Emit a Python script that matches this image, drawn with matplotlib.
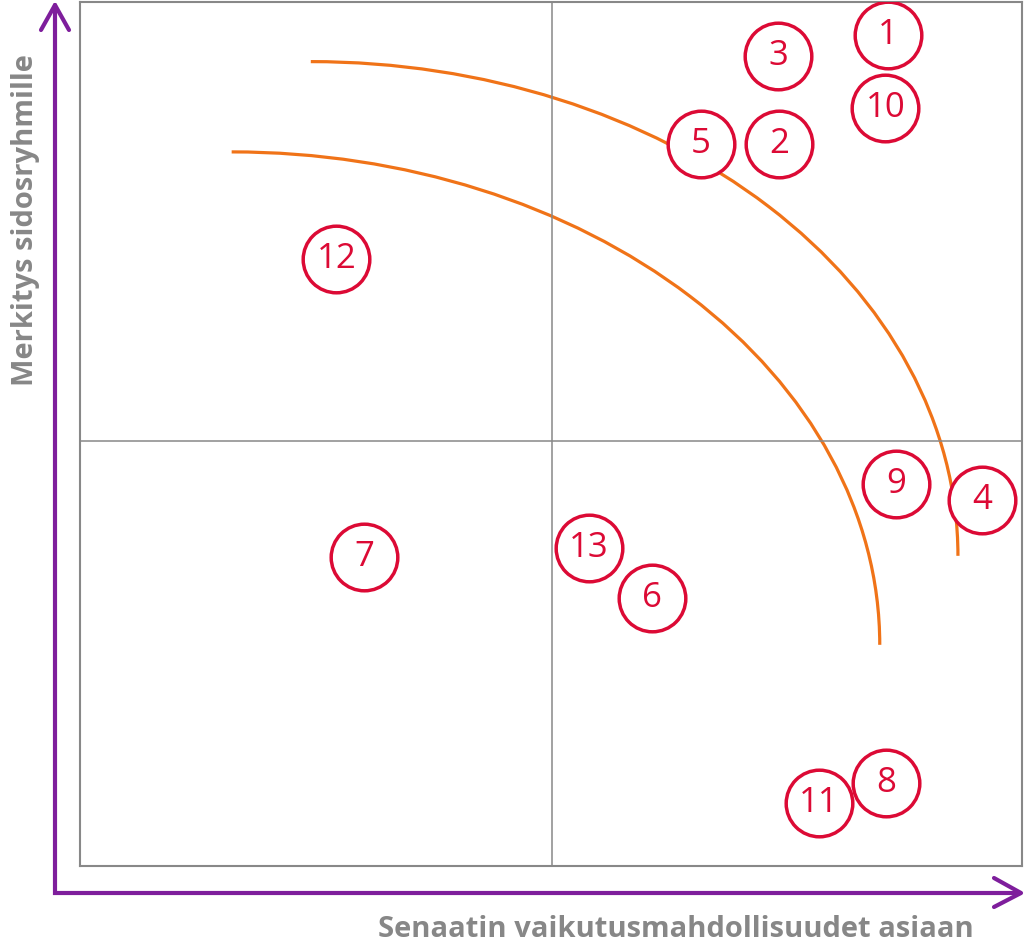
import matplotlib.pyplot as plt
from matplotlib.patches import Arc

# item numbers and their positions (0..10 scale on both axes)
labels = ['1', '3', '10', '5', '2', '12', '9', '4', '7', '13', '6', '8', '11']
x_vals = [8.58, 7.41, 8.55, 6.59, 7.42, 2.72, 8.66, 9.58, 3.02, 5.40, 6.07, 8.56, 7.84]
y_vals = [9.62, 9.38, 8.77, 8.36, 8.36, 7.02, 4.42, 4.24, 3.58, 3.68, 3.10, 0.96, 0.73]

# quarter-ellipse boundaries: centre x, centre y, width, height
arc_cx = [2.45, 1.61]
arc_cy = [3.59, 2.56]
arc_w = [13.74, 13.76]
arc_h = [11.44, 11.41]

xlabel = 'Senaatin vaikutusmahdollisuudet asiaan'
ylabel = 'Merkitys sidosryhmille'

red = '#DC0A35'
orange = '#F07318'
purple = '#7E1E9C'
grey = '#878787'

W, H = 1024, 947
fig = plt.figure(figsize=(W / 100, H / 100), dpi=100)
plt.rcParams['font.family'] = ['Open Sans', 'DejaVu Sans']

# overlay for the purple axis arrows and titles (pixel coordinates)
over = fig.add_axes([0, 0, 1, 1])
over.set_xlim(0, W)
over.set_ylim(H, 0)
over.axis('off')
over.plot([55, 55, 1020], [5, 893, 893], color=purple, lw=3, solid_capstyle='round',
          solid_joinstyle='miter')
over.plot([41, 55, 69], [30, 5, 30], color=purple, lw=3, solid_capstyle='round')
over.plot([994, 1021, 994], [878, 893, 907], color=purple, lw=3, solid_capstyle='round')
over.text(676, 929, xlabel, ha='center', va='center', fontsize=21, fontweight='bold', color=grey)
over.text(26, 220, ylabel, ha='center', va='center', rotation=90, fontsize=21,
          fontweight='bold', color=grey)

# main chart box
left, right, top, bottom = 80, 1022, 2, 866
ax = fig.add_axes([left / W, 1 - bottom / H, (right - left) / W, (bottom - top) / H])
ax.set_xlim(0, 10)
ax.set_ylim(0, 10)
ax.set_xticks([])
ax.set_yticks([])
for s in ax.spines.values():
    s.set_color('#888888')
    s.set_linewidth(1.5)
ax.axvline(5.01, color='#888888', lw=1.1)
ax.axhline(4.92, color='#888888', lw=1.1)

for cx, cy, w, h in zip(arc_cx, arc_cy, arc_w, arc_h):
    ax.add_patch(Arc((cx, cy), w, h, theta1=0, theta2=90, color=orange, lw=2.3))

ax.scatter(x_vals, y_vals, s=2300, facecolors='white', edgecolors=red, linewidths=2.5, zorder=3)
for lab, x, y in zip(labels, x_vals, y_vals):
    ax.text(x, y, lab, ha='center', va='center', fontsize=25, color=red, zorder=4)

fig.savefig('out.png', dpi=100)
